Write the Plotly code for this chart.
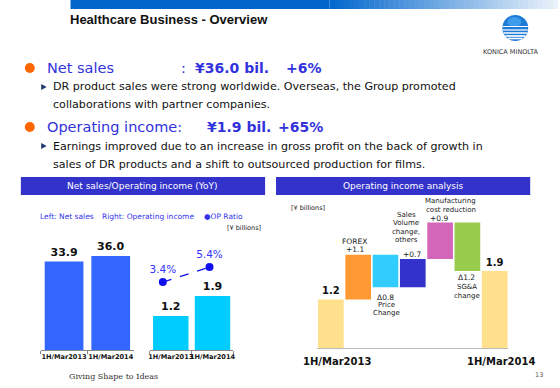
import math
import plotly.graph_objects as go

W, H = 560, 388
def X(p): return p / W
def Y(p): return 1 - p / H

# ---------------- data ----------------
cats = ["1H/Mar2013", "1H/Mar2014"]
net_sales = [33.9, 36.0]
op_income = [1.2, 1.9]
op_ratio = [3.4, 5.4]

wf_cats = ["1H/Mar2013", "FOREX", "Price Change", "Sales Volume change, others",
           "Manufacturing cost reduction", "SG&A change", "1H/Mar2014"]
wf_values = [1.2, 1.1, -0.8, 0.7, 0.9, -1.2, 1.9]
wf_measure = ["total", "relative", "relative", "relative", "relative", "relative", "total"]
wf_colors = ["#FFE08C", "#FF9933", "#33CCFF", "#3333CC", "#D466B9", "#99CC4D", "#FFE08C"]

headline_net = ["Net sales", ":", "¥36.0 bil.", "+6%"]
headline_op = ["Operating income:", "¥1.9 bil.", "+65%"]

# waterfall bases from running totals
bases, heights, running = [], [], 0.0
for v, m in zip(wf_values, wf_measure):
    if m == "total":
        bases.append(0.0); heights.append(v); running = v
    else:
        if v >= 0:
            bases.append(running); heights.append(v)
        else:
            bases.append(running + v); heights.append(-v)
        running += v
wf_text = [f"<b>{v:.1f}</b>" if m == "total" else "" for v, m in zip(wf_values, wf_measure)]

fig = go.Figure()

fig.add_trace(go.Bar(x=cats, y=net_sales, xaxis="x", yaxis="y", width=0.83,
                     marker=dict(color="#3366FF", line=dict(width=0)),
                     text=[f"<b>{v:.1f}</b>" for v in net_sales], textposition="outside",
                     textfont=dict(family="DejaVu Sans", size=11, color="#111111"),
                     cliponaxis=False, hoverinfo="skip"))
fig.add_trace(go.Bar(x=cats, y=op_income, xaxis="x2", yaxis="y2", width=0.85,
                     marker=dict(color="#00CCFF", line=dict(width=0)),
                     text=[f"<b>{v:.1f}</b>" for v in op_income], textposition="outside",
                     textfont=dict(family="DejaVu Sans", size=11, color="#111111"),
                     cliponaxis=False, hoverinfo="skip"))
fig.add_trace(go.Scatter(x=cats, y=op_ratio, xaxis="x3", yaxis="y3",
                         mode="lines+markers+text",
                         line=dict(color="#1010EE", width=1.3, dash="dash"),
                         marker=dict(color="#1010EE", size=8),
                         text=[f"{v:.1f}%" for v in op_ratio], textposition="top center",
                         textfont=dict(family="DejaVu Sans", size=10.5, color="#3333FF"),
                         cliponaxis=False, hoverinfo="skip"))
fig.add_trace(go.Bar(x=wf_cats, y=heights, base=bases, xaxis="x4", yaxis="y4", width=0.94,
                     marker=dict(color=wf_colors, line=dict(width=0)),
                     text=wf_text, textposition="outside",
                     textfont=dict(family="DejaVu Sans", size=10, color="#111111"),
                     cliponaxis=False, hoverinfo="skip"))

axis_common = dict(showgrid=False, zeroline=False, fixedrange=True)
tickfont = dict(family="DejaVu Sans", size=6.6, color="#111111")

fig.update_layout(
    width=W, height=H, margin=dict(l=0, r=0, t=0, b=0),
    paper_bgcolor="white", plot_bgcolor="rgba(0,0,0,0)", showlegend=False,
    xaxis=dict(domain=[X(39), X(133)], anchor="y", range=[-0.5, 1.5], showline=True, linecolor="#888888",
               ticks="outside", tickson="boundaries", ticklen=3, tickcolor="#888888", tickangle=0,
               tickfont=tickfont, tickprefix="<b>", ticksuffix="</b>", **axis_common),
    yaxis=dict(domain=[Y(350), Y(350 - 104.4)], range=[0, 40], visible=False, **axis_common),
    xaxis2=dict(domain=[X(149), X(233)], anchor="y2", range=[-0.5, 1.5], showline=True, linecolor="#888888",
                ticks="outside", tickson="boundaries", ticklen=3, tickcolor="#888888", tickangle=0,
                tickfont=tickfont, tickprefix="<b>", ticksuffix="</b>", **axis_common),
    yaxis2=dict(domain=[Y(350), Y(350 - 99.4)], range=[0, 3.5], visible=False, **axis_common),
    xaxis3=dict(domain=[X(138.5), X(232.5)], anchor="y3", range=[-0.5, 1.5], visible=False, **axis_common),
    yaxis3=dict(domain=[Y(350), Y(350 - 99.4)], range=[-5.67, 7.6], visible=False, **axis_common),
    xaxis4=dict(domain=[X(317.5), X(510)], anchor="y4", range=[-0.5, 6.5], showline=True, linecolor="#BBBBBB",
                showticklabels=False, ticks="", **axis_common),
    yaxis4=dict(domain=[Y(348), Y(348 - 3.2 * 40.5)], range=[0, 3.2], visible=False, **axis_common),
)

shapes = []
annots = []

def txt(x, y, s, size, color="#111111", family="DejaVu Sans", xanchor="left"):
    annots.append(dict(x=X(x), y=Y(y), xref="paper", yref="paper", text=s, showarrow=False,
                       xanchor=xanchor, yanchor="middle", borderpad=0,
                       font=dict(family=family, size=size, color=color)))

# top gradient band
def lerp(a, b, t): return int(round(a + (b - a) * t))
c0, c1 = (0, 102, 204), (236, 243, 251)
shapes.append(dict(type="rect", xref="paper", yref="paper", x0=X(69), x1=X(330), y0=Y(9), y1=Y(0),
                   fillcolor="rgb(0,102,204)", line=dict(width=0), layer="below"))
steps = 46
for i in range(steps):
    xa = 330 + (560 - 330) * i / steps
    xb = 330 + (560 - 330) * (i + 1) / steps + 0.5
    t = (i + 0.5) / steps
    col = f"rgb({lerp(c0[0], c1[0], t)},{lerp(c0[1], c1[1], t)},{lerp(c0[2], c1[2], t)})"
    shapes.append(dict(type="rect", xref="paper", yref="paper", x0=X(xa), x1=X(min(xb, 560)),
                       y0=Y(9), y1=Y(0), fillcolor=col, line=dict(width=0), layer="below"))

txt(67, 19, "<b>Healthcare Business - Overview</b>", 13, "#111111", "Liberation Sans")

# logo
cx, cy, r = 517, 28, 13
shapes.append(dict(type="circle", xref="paper", yref="paper", x0=X(cx - r), x1=X(cx + r),
                   y0=Y(cy + r), y1=Y(cy - r), fillcolor="#1C7BD6", line=dict(width=0)))
shapes.append(dict(type="circle", xref="paper", yref="paper", x0=X(cx - 8), x1=X(cx + 6),
                   y0=Y(cy - 1), y1=Y(cy - 11), fillcolor="#3D9BEA", line=dict(width=0)))
for dy, w in [(-1.5, 1.0), (2.0, 1.2), (5.0, 1.5), (8.0, 1.7), (10.5, 1.6)]:
    hw = math.sqrt(max(r * r - dy * dy, 0)) - 0.3
    shapes.append(dict(type="line", xref="paper", yref="paper", x0=X(cx - hw), x1=X(cx + hw),
                       y0=Y(cy + dy), y1=Y(cy + dy), line=dict(color="white", width=w)))
txt(513, 52, "KONICA MINOLTA", 6.5, "#333333", "DejaVu Sans", "center")

def dot(x, y, rr=5, color="#FF6600"):
    shapes.append(dict(type="circle", xref="paper", yref="paper", x0=X(x - rr), x1=X(x + rr),
                       y0=Y(y + rr), y1=Y(y - rr), fillcolor=color, line=dict(width=0)))
def tri(x, y):
    path = f"M {X(x-2.5)},{Y(y-3)} L {X(x+3)},{Y(y)} L {X(x-2.5)},{Y(y+3)} Z"
    shapes.append(dict(type="path", xref="paper", yref="paper", path=path,
                       fillcolor="#1F3A6E", line=dict(width=0)))

BLUE = "#3333DD"
dot(28, 68)
txt(44, 68, headline_net[0], 14.5, BLUE)
txt(179, 68, headline_net[1], 14.5, BLUE)
txt(193, 68, f"<b>{headline_net[2]}</b>", 14, BLUE)
txt(285, 68, f"<b>{headline_net[3]}</b>", 14, BLUE)
tri(42, 87)
txt(50, 87, "DR product sales were strong worldwide. Overseas, the Group promoted", 11.1)
txt(50, 105, "collaborations with partner companies.", 11.1)
dot(28, 127)
txt(44, 127, headline_op[0], 14.5, BLUE)
txt(205, 127, f"<b>{headline_op[1]}</b>", 14, BLUE)
txt(277, 127, f"<b>{headline_op[2]}</b>", 14, BLUE)
tri(42, 146)
txt(50, 146, "Earnings improved due to an increase in gross profit on the back of growth in", 11.1)
txt(50, 164, "sales of DR products and a shift to outsourced production for films.", 11.1)

for (x0, x1, label) in [(19, 265, "Net sales/Operating income (YoY)"), (276, 532, "Operating income analysis")]:
    shapes.append(dict(type="rect", xref="paper", yref="paper", x0=X(x0), x1=X(x1), y0=Y(195), y1=Y(177),
                       fillcolor="#3333CC", line=dict(width=0)))
    txt((x0 + x1) / 2, 186, label, 9, "white", "DejaVu Sans", "center")

LB = "#3333EE"
txt(37, 216, "Left: Net sales", 7.5, LB)
txt(100, 216, "Right: Operating income", 7.5, LB)
txt(202, 216, "●OP Ratio", 7.5, LB)
txt(226, 228, "[¥ billions]", 6.5, "#222222")

txt(308, 208, "[¥ billions]", 6.5, "#222222", xanchor="center")
LC = "#222222"
txt(452, 201, "Manufacturing", 7, LC, xanchor="center")
txt(452, 210, "cost reduction", 7, LC, xanchor="center")
txt(440, 218, f"{wf_values[4]:+.1f}", 7.5, LC, xanchor="center")
txt(407, 215, "Sales", 7, LC, xanchor="center")
txt(407, 223, "Volume", 7, LC, xanchor="center")
txt(407, 232, "change,", 7, LC, xanchor="center")
txt(407, 240, "others", 7, LC, xanchor="center")
txt(413, 254, f"{wf_values[3]:+.1f}", 7.5, LC, xanchor="center")
txt(355, 241, "FOREX", 7.5, LC, xanchor="center")
txt(356, 249, f"{wf_values[1]:+.1f}", 7.5, LC, xanchor="center")
txt(386, 297, f"Δ{abs(wf_values[2]):.1f}", 7.5, LC, xanchor="center")
txt(387, 305, "Price", 7, LC, xanchor="center")
txt(387, 313, "Change", 7, LC, xanchor="center")
txt(468, 277, f"Δ{abs(wf_values[5]):.1f}", 7.5, LC, xanchor="center")
txt(468, 287, "SG&A", 7, LC, xanchor="center")
txt(468, 296, "change", 7, LC, xanchor="center")
txt(337, 361, f"<b>{wf_cats[0]}</b>", 10, "#111111", xanchor="center")
txt(503, 361, f"<b>{wf_cats[-1]}</b>", 10, "#111111", xanchor="center")

txt(66, 376, "Giving Shape to Ideas", 8, "#333333", "DejaVu Serif")
txt(541, 375, "13", 6.5, "#555555", xanchor="center")

fig.update_layout(shapes=shapes, annotations=annots)
fig.write_html("out.html", config={"displayModeBar": False},
               post_script="document.body.style.margin='0';document.body.style.padding='0';")
